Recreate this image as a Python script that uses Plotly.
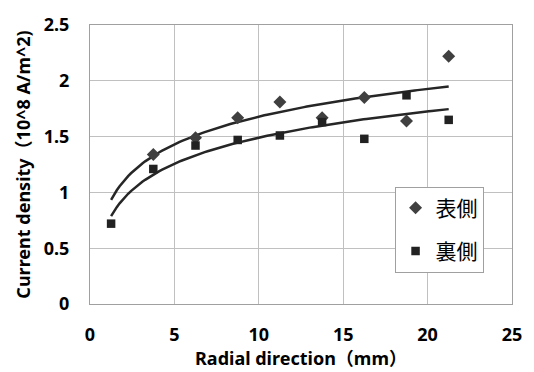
import numpy as np
import plotly.graph_objects as go

x_front = [3.75, 6.25, 8.75, 11.25, 13.75, 16.25, 18.75, 21.25]
y_front = [1.34, 1.49, 1.67, 1.81, 1.67, 1.85, 1.64, 2.22]
x_back = [1.25, 3.75, 6.25, 8.75, 11.25, 13.75, 16.25, 18.75, 21.25]
y_back = [0.72, 1.21, 1.42, 1.47, 1.51, 1.63, 1.48, 1.87, 1.65]
trend_range = [1.25, 21.25]
x_ticks = [0, 5, 10, 15, 20, 25]
y_ticks = [0, 0.5, 1, 1.5, 2, 2.5]

FONT = "'Noto Sans', 'Noto Sans CJK JP', sans-serif"
CJK = "'Noto Sans CJK JP', sans-serif"

def log_trend(xs, ys):
    b, a = np.polyfit(np.log(xs), ys, 1)
    xt = np.linspace(trend_range[0], trend_range[1], 120)
    return xt, a + b * np.log(xt)

fig = go.Figure()
for xs, ys in [(x_front, y_front), (x_back, y_back)]:
    xt, yt = log_trend(np.array(xs), np.array(ys))
    fig.add_trace(go.Scatter(x=xt, y=yt, mode="lines", showlegend=False,
                             line=dict(color="#262626", width=2.5), hoverinfo="skip"))

fig.add_trace(go.Scatter(x=x_front, y=y_front, mode="markers", name="表側", legendgroup="a",
                         marker=dict(symbol="diamond", size=10, color="#404040")))
fig.add_trace(go.Scatter(x=x_back, y=y_back, mode="markers", name="裏側", legendgroup="b",
                         marker=dict(symbol="square", size=8.5, color="#222222")))

tf = dict(family=FONT, size=18, color="#000000", weight="bold")
axis_common = dict(showgrid=True, gridcolor="#c0c0c0", gridwidth=1, showline=True,
                   linecolor="#a0a0a0", linewidth=1, mirror=True, zeroline=False,
                   tickfont=tf, ticks="")
fig.update_xaxes(range=[0, 25], tickvals=x_ticks, ticktext=[str(v) for v in x_ticks],
                 ticklabelstandoff=14,
                 title=dict(text="Radial direction（mm）", font=tf, standoff=0),
                 **axis_common)
fig.update_yaxes(range=[0, 2.5], tickvals=y_ticks, ticktext=[f"{v:g}" for v in y_ticks],
                 ticklabelstandoff=16,
                 title=dict(text="Current density（10^8 A/m^2)", font=tf, standoff=8),
                 **axis_common)

fig.update_layout(
    width=534, height=372,
    margin=dict(l=90, r=20, t=14, b=68),
    plot_bgcolor="white", paper_bgcolor="white",
    legend=dict(x=(396 - 90) / (534 - 110), y=1 - (182 - 14) / 290,
                xanchor="left", yanchor="top",
                bgcolor="white", bordercolor="#a0a0a0", borderwidth=1,
                font=dict(family=CJK, size=21, color="#000"), tracegroupgap=13,
                traceorder="grouped", itemwidth=30),
    showlegend=True,
)
fig.write_html("out.html")
